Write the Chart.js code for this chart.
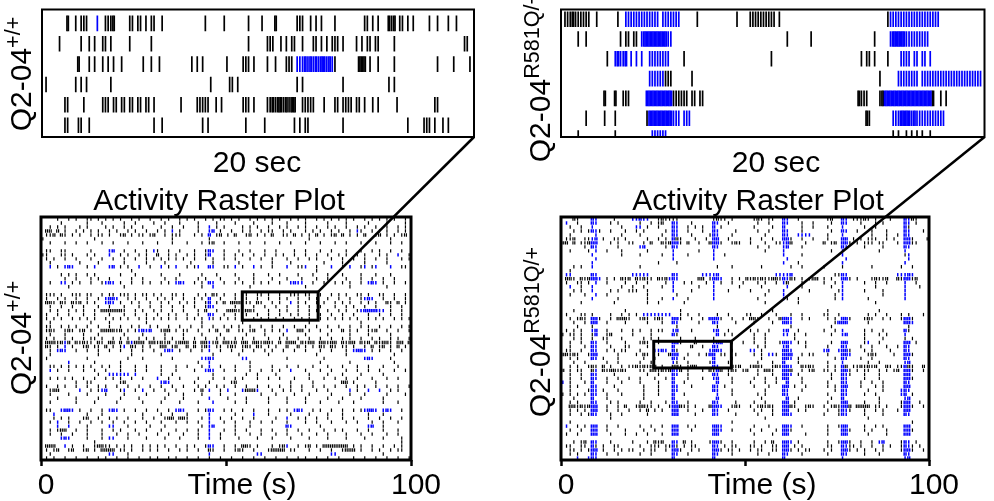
<!DOCTYPE html>
<html>
<head>
<meta charset="utf-8">
<script src="https://cdn.jsdelivr.net/npm/chart.js@4.4.1/dist/chart.umd.min.js"></script>
<style>
	body { margin: 0; width: 994px; height: 501px; overflow: hidden; background: #fff; position: relative; font-family: 'Liberation Sans', Arial, sans-serif; }
	canvas { position: absolute; left: 0; top: 0; }
	.lbl { position: absolute; white-space: nowrap; font-size: 30px; line-height: 30px; color: #000; transform: translate(-50%, -50%); }
	.rot { transform: translate(-50%, -50%) rotate(-90deg); }
	sup { font-size: 0.72em; line-height: 0; vertical-align: 0.5em; }
</style>
</head>
<body>
<canvas id="mainL" width="994" height="501"></canvas>
<canvas id="mainR" width="994" height="501"></canvas>
<canvas id="insetL" width="994" height="501"></canvas>
<canvas id="insetR" width="994" height="501"></canvas>

<div class="lbl rot" style="left:21px;top:74px">Q2-04<sup>+/+</sup></div>
<div class="lbl rot" style="left:540px;top:77px">Q2-04<sup>R581Q/+</sup></div>
<div class="lbl" style="left:257px;top:162px">20 sec</div>
<div class="lbl" style="left:776px;top:162px">20 sec</div>
<div class="lbl" style="left:219px;top:200px">Activity Raster Plot</div>
<div class="lbl" style="left:758px;top:200px">Activity Raster Plot</div>
<div class="lbl rot" style="left:21px;top:338px">Q2-04<sup>+/+</sup></div>
<div class="lbl rot" style="left:540px;top:332px">Q2-04<sup>R581Q/+</sup></div>
<div class="lbl" style="left:242px;top:484px">Time (s)</div>
<div class="lbl" style="left:762px;top:484px">Time (s)</div>

<script>
// spike rows: groups split by spaces, each group covers the same time span
// . none, i black spike, I two black spikes, b blue spike, B two blue spikes
const leftInsetRows = [
	'........ .I..i.ii i...b..i iiI..... ii.ii.i. ii..i... ........ ....i... ...i.... ....i... .i....I. ......ii i..i.i.i ....i... .......i i.i.i... IiI.ii.i .i.....i ..i...i. .i......',
	'......i. ......i. .i.i..ii .i...... i....... i....... ........ ........ ........ ....i... ...iii.. i.i.ii.. i...ii.i .i.iii.i ....i.i. ii.ii... ..i..... ........ ........ ....ii..',
	'........ .....I.. .i.i..i. i.i..i.. .....i.. i..i.... .......i .i.i.... ....i... ..iii.i. ...i..i. ..iii.bb bBbBbBbB BbBbi... .....III .i..i... ..i..... ........ ..i..... i.....i.',
	'.i...... ....i.i. i....... .i...... ........ ........ ........ ......i. .....ii. i....... ........ ......i. i....... .......i ........ ........ i.i..... ........ ........ ........',
	'........ ii.....i ......ii i.ii.ii. ii.ii.ii .i...... ...i.... .iiiii.. i.i..... ..iii.i. ...iiIiI IiIiII.. iiiii... i...ii.i iii.ii.i ..i.i... ...i.... ........ .ii..... ........',
	'........ ii...ii. .i...... ........ ........ .i..i... ........ ...i.i.. ........ ...i.... ..i..... .....i.i .ii..... .......i ........ ........ .......i .....iii .i..i.i. ........'
];

const rightInsetRows = [
	'.iiiIiii iii..i.. .....i.. bbbbbbbb bbbbb.bb bbbbb... ...i.... ........ ..i....i iiiiiiii i.i..... ........ ........ ........ ........ ...ibbbb bbbbbbbb bbbbbbb. ........ ........',
	'......i. .i...... ......i. ii.ii.bB BBBBBBBB bb...... ........ ........ ........ ........ .....i.. ......i. ........ ........ ......i. ....bBBB BBbbbbbb bbb..... ........ ........',
	'........ ........ .i..bBbb B.b.b.b. .bbbbbbb b.....i. ........ ........ ........ .......i ........ ........ ........ ........ .i.ii.i. ...i.... bbbb.bb. bb.b.... ........ ........',
	'........ ........ ........ ........ .bbbbbbi ii...... .i...... ........ ........ ........ ........ ........ ........ ........ ........ i......b bbbbbbb. bbbbbbbb bbbbbbbb bbbbbbb.',
	'........ ........ I...I..i ii...... BBBBBBBB BBiiiiii .ii.ii.. ........ ........ ........ ........ ........ ........ ........ Iiii.... iIBBBBBB BBBBBBBB BBBBI..i .i...... ........',
	'........ .i...... i...i... ........ iBBBBBBB BBbbb.bb b....... ........ ........ ........ ........ ........ ........ ........ ...Ii... .....bbb BBBBbBbb bbbbbbbb b....... ........',
	'......i. ........ ....i... ........ ..bbbbbb ........ ........ ........ ........ ........ ........ ........ ........ ........ ........ .....i.i ..i.i.i. i..i.... ........ ........'
];

const leftMainRows = [
	'....i..i.i ..ii.i.i.i .i..i.i..i ..i.i..i.i .i..i.i.ii .i.i..i.i. i.i.i..i.i .i..i.i.i. i.i.i..i.i .i.i.i..i.',
	'.....i.... ..i...i... ..i..i.... i..i...i.. ..i....i.. ..i....i.. ..i...i... .i.....i.. ..i.....i. ...i....i.',
	'..i.i.i... i.i....i.i ..i.i..i.. ..i..i..i. ..i..b.i.i ....i.i.i. .i..i.i..i .i..i..i.i ..i..i.i.. i..i..i.i.',
	'.II.I.i..i .i.i.i..i. i..i.i..i. .i.i.b.i.. ..i..bB.i. .i..i.i..i .ii..i.i.. .i.i.i..i. i..i.bi..i .i.i..i.i.',
	'.iiI.Ii.i. i..i.ii.i. .iI.i.ii.i I..i.iii.. .i.i.B.iI. i.I..iI.i. i.I..ii.I. i.i.I.i.iI .I.i.i.I.. iI.i.i.iI.',
	'i......... ....i..... .......... .....i.... .....i.... .......... .......... ..i....... .......... ....i.....',
	'..i...i..i ..i...i..i ...i...i.. .i...i...i ...i.iI..i ...i..i... i...i..i.. .i...i...i ..i...i... i...i..i..',
	'.......... .......... .......... .......... .......... .......... .......... .......... .......... ..........',
	'.ii..ii... ...i....bB ..i..i..i. bi..i..i.. .i..iBb..i ...i..i... i..i....i. .i...i..i. ..i...i..i .i..i..i..',
	'ii...ii.i. ..i.i...b. .i.i..i.i. .I..i.i..i .i..iB...i ..i.i..i.. i..i.i..i. .i..i..i.. i.i..i.i.. .i.i..b..i',
	'.i.i..i..i ...i..i..i ..i..i..i. i.i.i.i.i. .i..i.i..i ..i...i..i ..i...i..i ..i.i...i. .i..i..i.. i..i...i.i',
	'..i....... i....i.... ..i.....i. ...i...... i.....i... ...i...... ..i....i.. ......i... .i.....i.. ...i......',
	'..b.i.bBb. ..i.b...bB .i.i..b..i ..b.i.b..i .ib..Bb..i i.b.i..b.i ..i...b..i ib..i...b. .i.b..ib.i b...b..ii.',
	'.......... .......... ....i..... .......... .......... .......... .......... ....i..... .......... ..........',
	'.....i.i.i ..i.i..... .i...i.... ..i....i.. ...i...i.. ..i....i.. .i..i....i ...i...i.. .i....i... i...i.....',
	'......i..i ...i.i..i. ....i..i.. ...i..i... ..i.i...i. ...i...i.. ..i...i... i...i..i.. ..i...i..i ..i..i....',
	'..i..bb.i. i..i..ibBb .i..i..i.i ..i.i.bBb. .i.i.Bb..i ..i.i..i.i .i..i..bBb b..i..i..i .i.i..i.bB b.i..i..i.',
	'.......i.. .......... ..i....... .......... ...i..b... ......i... .......... .i........ ...i...... ...i......',
	'.......... .......... .......... .......... .......... .......... .......... .......... .......... ..........',
	'.iii.i..ii i.ii..i.ii .iii.i.ii. i.i..ii.i. ..i.i.Ii.i ..i.ii..ii .i..i..iii .ii..i..i. i.i..ii.i. .ii..i..i.',
	'.i..i.i..i ..i..i.bBB b..i.i..i. .i.i.i..i. .i.i.B..i. ..i..i..i. .i..i.i..i ..i.i..i.. i..i..ibBb ..i..i..i.',
	'.IIi.Ii.Ii I.i.i..bBb .i..i.i..i ..i.i..i.i .i..iB.i.I .III.ii.Ii ..i.i..b.i .i..i.i..i .i.i..i.i. i..Ii.I.i.',
	'..i..i..i. .i...i..i. ..i...i..i ..i..i..i. .i..iBb... ..i.i..i.. i..i..i..i ..i..i...i ..i.i..i.. i...i..i..',
	'..i.i..i.i .i..i.IIII IIi..i.i.. i.i..i..i. ..i.I..i.. IIIi.IIi.. .i..i.i..i ..i.i..i.. i.i..ibBBB Bbb.i..i..',
	'.i..i..i.. .i..i...i. ..i..i..i. .i..i.i..i ..i..Bb..i ..i..i..i. .i..i..i.i ..i..i..i. .i..i...i. .i..i..i..',
	'.i.i.i..i. i.i.i..i.i .i.i..i.i. i.i.i.i..i .i.i.bi.i. i.i.i..i.i .i.i.i..i. i.i..i.i.i .i.i.i..i. i.i..i.i.i',
	'..i....... ...i....i. ........i. .......... ...i...... ....i..... .......... ..i....... ......i... ..........',
	'.ii..i.i.i ..i..i..i. .i..i.i..i .i..i..i.. i..i..i..i .i.i..i..i ..i..i..i. .i..i..i.. i..i..i.i. .i..i..i.i',
	'.iIi..iIi. iI.i..IIII iI.i.ibBbB ..iII.i.ii ..i..i.I.. I..ii.iI.. i.i.i.b..I I.i..i..i. .I.i.i..ii I..i..i..i',
	'..i...i... .i...i.... ..i....i.. ...i....i. ...i....i. .....i.... i....i.... .i.....i.. ...i....i. ....i.....',
	'.i.i..i.i. .i.ii.i..i .i.i..i.i. i..i.i..i. .i..i..i.i ..i.i..i.. .i..i.i..i ..i..i..i. .i.i..i..i .i..i.i..i',
	'.IIIiIbI.I iIii.Ii.II .I.IbIII.I IiIiI.iIII .I.IIbiI.I IiI.II.IIi IIi.I.III. IiII.IIiII .IiII.IiI. IiIIi.II.I',
	'.Ii.i.b.i. .iI.ii.I.i .ib.Ii.i.i ..II.iI..I .I.iIb.ii. iIi.iIi.Ii .i.i..I..I .i.i.Ii.Ii .ii.i..i.I .iI.i.I.i.',
	'..i.bBb..i ..i..i..i. .i..i..i.. i..bBb.i.. i..i.b..i. .i..i..i.. i.i..i..i. .i...i..i. ..i.bBBb.i .i..i..i..',
	'..i....... .....i.... ....i..... ..i....... ......i... ...i...... .i........ ....i..... ..i....... .....i....',
	'.i........ ..i....... ...i...i.. .....i.... ...bbBb... ....bb.... ......i... ......i... .......bBb ....i.....',
	'.......b.. ....i..... .i........ .......... ..i..b.... ......i... .......... .....i.... ...i...... .....i....',
	'..ii.i.i.i .i.i..i.i. .i...i..i. ..i...i..i ...i.b..i. ..i...i... ..i...i..i ...i...i.. .i...i..i. ..i...i...',
	'..b.i..i.. .i..i..i.. .i...i..i. ..i...i... .i..bBb..i ..i...i..i ..i.i..b.. .i...i..i. ..i..i..i. .i...i..i.',
	'.......... .....i..bb bbbb.b.... ..i..i.... ......i... .....i..i. ...i...... ..i....i.. .i....i... ..i.......',
	'..i.i.i.i. .i..i..i.i .i..i..i.. .b..i..i.. ..i...i..i ..i.i...i. .i..i...i. ..i...i..i ..i..i...i ...i..i...',
	'.........i ..ii...... .iI....... ..bBb..... .i...i.... .iI....... .......i.. ...i...... .II.i..... i.........',
	'.i..i.i..i ..i..i.i.. i..i..i..i ..i..i..i. ..i.i..i.i ..i..i..i. .i..i..i.. i..i..i..i ..i..i.i.. i..i..i..i',
	'..iII..... b..i.ibB.. .ib..i.b.. i..i..i... .i.I.b..i. b...bIIIb. ..i..i.i.. i...i..i.. ...b.i..b. .b..i.i...',
	'..i....i.. ..i....i.. ..i.....i. ....i...i. ...i....i. ..i......i ...i....i. ..i.....i. ...i...i.. ...i....i.',
	'....i....i .....i.... .i....i... ...i....i. .....b.... i....i.... .i....i... .i.....i.. .i....i... ..i.......',
	'..i......i ....i..... i......i.. ..i....i.. ..i...b... ..i..i.... .i....i... .i...i.... i...i..... ..i...i...',
	'.......... .......... .......... .......... .......... .......... .......... .......... .......... ..........',
	'.ii..bBBb. i..i..i.bB b.i..i..i. .i..i.bBb. ..i.iBb..i .i..i..i.. .i..i.i.bB b..i.i..i. .i..i.ibBB b.bBb..i..',
	'...b...... ..i...i... .......i.. ..i..i...i .....b.... ..i....b.. .i.....i.. ..i....i.. .i......i. ..i.......',
	'...i.i.i.. .iI..i..i. i..i...i.. i..iII.IIi ...i.b..i. .i..i..i.. ...i..b..i .i..i..i.. .i..i...i. .i..i..i..',
	'..i.b..i.. i..i..i..i ..i..i..i. ..i...i..i ..i..b...i ..i...i..i ..i...i... .i..i...i. ..i..i...i ..i...i...',
	'....b..b.. ..i.....bb ...i.....i ...i...... ...i.bB... ..i...i... ......Bb.. .....i.... ........bB ..i.......',
	'..i.iII..i ..i...i..i .i...i..i. ..i...i..i ..i..b...i ..i..i...i ..i...i..i ..i...i..i .i...i..i. ..i...i...',
	'..i..i..i. ..i...i... i..i..i... .i..i...i. ..i..b..i. ..i...i..i ...i..i... i...i..i.. ..i...i..i ...i..i...',
	'.....bBb.. ..i...i.bb ...i....i. ...i...i.. ..i..b..i. ...i....i. ..i....i.. ..i....i.. ..i....i.. ..i....i..',
	'.......... ....i..... .......... .......... .......... .......... .......... .......... .......... .......i..',
	'.III..b.i. .i..iIIii. i.i.i..i.i .i.i..i..i .i..iBb..i ..i.IIi.i. ..i.iIb..i .iI.i.IIII III.i.i..i ..i..i.i..',
	'.i.iI..iI. .iI.i.IIII .ii.i..i.i .i..i..i.i ..i..Ii..i ..iIi..i.. .iIIII.ii. ..i..i..i. .iIII.i..i .i..i.ii..',
	'..i....... ........bb ...i...... .......... .....b.... ........bb .......... ........bb .......... ..i.......',
	'.i.i..i..i ..i..i.i.. i..i..i..i .i..i.i..i ..i..i..i. .i..i..i.. i..i..i..i .i..i..i.. i...i..i.. i..i..i..i'
];

const rightMainRows = [
	'...Ii...Bb ....i....b bBbb..iIii ii........ .iIii.i... ..iIi.ii.. Bb..i..... ..iI..Bb.i iiIi.i...i ...BbIi...',
	'.b..i...Bb ...i.i.... .i..i.iI.. Bb...i.... .Bb..i.... ...i..i... Bb...i..i. ...i..Bb.. .i...i.i.. ...Bb.i...',
	'..i..i..b. ......i... bb.i..i... Bb..i.i.i. .B.i...... ..i....i.. B....i..i. ..i...b... ..i..i.... ...Bi.....',
	'...i.i.iBb i..i...i.. i.i.....i. Bb..i...i. .Bb....i.. ...i..i... Bb...i.... ...i..Bb.. i...i...i. ...Bb...i.',
	'..i......b ......i... .i.....i.. Bb...i.... iBb...i... .....i.... Bb..bbbb.. ..i...b... ....i...i. .i.Bb.....',
	'.iiI..iibB .i..ii.i.. ...i..i.i. BIi...i..i .BB..i.... .i..i..i.. BBi..i..i. ..i...BB.i .i.iii..i. i..BBi...i',
	'II.I.iiIBB ...i.i..ii ..i.I..IiI BBi.I..i.. IBBi..iIi. .i...i..ii bBI...i... .I.iI.BBi. i.iii.ii.. .i.BBii...',
	'......i.Bb .....i.... .bB.....i. Bb........ .Bb....... ...i..i... bB...i.... ......Bb.. ..i....i.. ...Bb.....',
	'..i....i.b ..i...i... ...i...... b......i.. .b........ .....i.... b......... ...i..b... ......i... ...b......',
	'........b. ......i... .i.....i.. b...i..... .b..i..... .......... b....i.... ......b... .......... ...ib.....',
	'.........b .......... .......... b......... .b........ .......... .b........ .......b.. .......... ....b.....',
	'........b. .......... ......i... .i........ .......... .......... b...i..... ......b... .......... ...b......',
	'...i.i..b. .......... .i........ .......... ..i...i... ....i..... ..i..i.... .i....i... ....i..... ..i..i....',
	'..i....... .......... .......... .......... .......... .......... .......... .......... .......... ..........',
	'.bb.....Bb .........b bbbb...... Bb......bb bbB....... ........bb bbB....... ....iiBb.. .......... .bbbBb....',
	'.IIi.IiIBB b.i.i.IiI. IiIii.IiIb Bb.....II. iBBb..i.i. IiIiIiiIIi BbIi.i.iII .i.i..BBi. i...iIiiI. .IiBBiI...',
	'.i..ii.i.b ..i....i.. i..i....i. b..i.i...i .b.i..i..i ...i.i..i. bI...i.... .i..i.b... ..i..i..i. ...b..i...',
	'..b..i..b. ......i..i ..i....i.. b......i.. .b......i. ....i..... .b...i.... ...i..b... .....i.... ...b...i..',
	'...i.i..b. ...i.i..ii i..i...... b....i.... .b...i.... .i....i... b......i.. .....ib... ..i....i.. ...b......',
	'..i...i..b ..i....... ...i...... .i........ .b........ .....i.... b......... ....i.b... .......i.. ...b......',
	'........b. .....i.... ...i...i.. b...i..... .b........ ...i...... bi..i..... ....i.b... ...i...... ...b......',
	'.....i.... ....i..... ...i..i... ...i...... .......... .....i.... ....i..... .......... .....i.... ..........',
	'.......... .......... .......... .......... .......... .......... .......... .......... .......... ..........',
	'...i...... .......i.. .......... ..i....... .......... .......i.. .......... ..i....... ......i... ..........',
	'.i...ii.i. ...i..i.i. i.bbbbbbbb ..i.i..i.. ..i..i.... ii..i...i. ..i..i.... .ii..i.... ...i.i..i. ..i.i...i.',
	'..i.iIi.BB i..i.IIIi. .iIi.iIi.. BBi..i..i. BBBi..i..i .IIi..i..I BBb..i.i.. ..i.i.BBi. ..iIi..i.i ..iBBi....',
	'...i..i.BB ..i....i.. ...i...i.. Bb.....i.. .Bb....i.. ..i....i.. BBb....... ....iBBB.. ...i...... ...BBb....',
	'....i...i. .......... .......... .i........ ..i....... .......... ..i....... ...i...... .......... ....i.....',
	'.i.i.i..bB ..i...i..i .i..i.ii.. bB...i.... .bB..i.... .i.i..i... bB..i..... .i..i.b... ..i.i..i.. ...Bi.....',
	'i.ii.i..iB ..iI.....i ....i..... Bi........ ..B.i.i... ..i..i.... bb.i..i... ...i..bB.. ..i...i.i. ...b......',
	'...i.i..i. .ii...i... ..i.i.i... ..i...i... .i........ ..i..i.... ...i...... .......... ..i....i.. ...i.i....',
	'..i..i..Bb ..i....i.. .iIi..i... BBi...I... .bBB..i..i ..i..i...i BBb.i.i... ...i..BB.. ..ib..i... ...BB.i...',
	'..i...i.Bb ...i...ii. ...i...... B....I..i. .Bb....... ...i.i.... bB....i... ..i...Bb.. .i..i...i. .i.Bb.....',
	'.ii..i..Bb ..i.i.ii.. .i...bbBb. Bi........ bBBb..i... .bb.i..... BBb....... .bB..bBBi. ..i.i....i ...Bb.....',
	'IIiIi..iBB .....i.... i.Ii..i..I BB..i..i.i BB.ii..i.. ..i.i.bbi. BBB..i.ii. ..i...BBb. ...iIi.... i..BBi....',
	'..i.i...Bb .i...i.... ..i..i.... Bb.i...... .B....i... ....i..... BBb.i..... ....i.Bb.. .i..i..... ...Bb.....',
	'...i..i... ..i..i.... .i..i..... bi..i..... iB...i.... ...i...i.. B...i..... ..i...b... ...i..i... ...bB.....',
	'..i.i..iIi .I.i..i.ii IiIiII.i.. IIi.iII... .Bb...IiI. .iIIi..iIi BBb..IiIi. ..i.i.BI.i iIiIiI..Ii .iiBIi..I.',
	'I.i.ii..Ib .IiIIiIi.. .ii.IIiIiI BbI.i...i. IiBI.iIi.i I..i.IIi.. BBI..i.iI. .ii.i.BBi. i.ii..i.i. iI.BBi..i.',
	'..i..i..Bb ....i..... ...i..i... Bb..i..... .Bb..i.... ...i...i.. BBb.i..... ...i..Bbi. ..i...i... ...BB.....',
	'..i..i..Bb ..i..i..i. .i...i..i. B...i...i. .bB...i... ..i..i..i. BB...i.... ...i..Bb.. ..i...i... ...BBi....',
	'b.i...i.B. ..i...i... .i....i... B..i...... ..B...i... .i...i..i. .B...i.... ..i...Bb.. .i..i..i.. ...Bb.....',
	'..i.i...Bb ....i..... ..i...i... Bb...i.... .Bb.i..... ..i...i... BB.i..i... ..i.i.BB.. .i...i.i.. ...BB.....',
	'..i....iBb .i...i.... ..i...i... Bb........ .Bb...i... .....i.... Bb...i.... ....i.Bb.. ...i...i.. ..bBb.....',
	'i.i.i.i.Bb ..i...i... ..i...i... B..i...... ..b...i... ...i.i.... Bb........ ..i...Bb.. ..i..i.... ..bB.i....',
	'...i....B. ..i....... ..i....... B......... ..B....... ....i..... .B..i..... ...i..B... ......i... ...bB.....',
	'..i.i...Bb ...i.i.... .i..i...i. Bb..i..... .Bb....i.. ..i..i.... BB.i...... ..i...BB.. ..i...i... ..iBB..i..',
	'..IIiIiIBB ..i..i.I.. iIIii.i..i BBIii.i... IBBb..iIi. .i.iIiIi.. BBIi..iIi. .i.iIiBBI. IIII.ii.i. ..iBBi..i.',
	'..i.i.i.BB ..i..i..i. .i.I.i.i.. BB..i...i. .Bb..i.... ..i.i..i.. BB..i.i... ..i..iBbi. ..i..i.i.. .i.BB.....',
	'..i..i.iBb ...i..i... ...i...... BB....i... .Bb....i.. ...i...i.. BBb....... .i...iBb.. ..i....i.. ...Bb.....',
	'.......... ...i...... .......... .......... .......... .....i.... .......... .......... ...i...... ..........',
	'..i....... .......... .......... .......... ......i... .......... .......... .......... .......... .....i....',
	'.b..i.i.BB ..i..i.... .i..i..i.. BB..i.i... .BBb...... ..i...i... BBb..i.... ..i..iBB.. ..i..i.i.. ...BB.....',
	'..i..i..BB ..i....i.. ..i..i.... BB...i.... .BBb..i... .i..i...i. BBi....... ..i...BBi. ..i.i...i. ...BBi....',
	'.i..i...BB ...i...i.. i..i...i.. BB........ .BB....... ..i....i.. BB....i... ..i...BB.. ...i....i. ...BB.....',
	'.......... .......... .......... .......... .......... .......... .......... .......... .......... ..........',
	'...i.iI.Bb ...i.....i ...i.IiI.. Bb.I.i.... iBBi..i... ..i..i.I.. BBb.i..... ..i..iBBi. .i..i.bB.. ..iBb.i...',
	'.ii..ii.Bi .i..ii.... .i..iii.ii Bi.i.ii... .Bb.i.ii.. .ii.i..ii. BB.i.i.... ..ii..Bbii .i..i..i.i ..iBbi.i..',
	'..ii.i.iBB .i..i.i.ii ..i.ii..i. BBi..i.i.. .BBi.ii.i. .i.ii..ii. BBi.i.ii.. .i.i..BBi. i.i..i.i.. ..iBBi..i.',
	'..i.i...Bb ..i..i.... .i..i..... Bb..i..... .Bb...i... ...i..i... Bb...i.... ..i...Bb.. ..i...i... ...Bb.....',
	'....b..bBb .......... .......... B......... .B........ .......... B......... ......b... .......... ...bB.....'
];

const timeTicks = [0, 50, 100];
// zoomed windows: [from s, to s, first row, last row]
const leftZoom = [54.4, 74.9, 18.3, 25.4];
const rightZoom = [25.2, 46.3, 30.7, 37.4];

Chart.defaults.color = '#000';
Chart.defaults.font.family = "'Liberation Sans', Arial, sans-serif";

const parseRows = (rows, span) => {
	const black = [];
	const blue = [];
	rows.forEach((row, r) => {
		row.split(' ').forEach((grp, k) => {
			const w = span / grp.length;
			[...grp].forEach((c, j) => {
				const t = k * span + j * w;
				const list = c === 'b' || c === 'B' ? blue : black;
				if (c === 'i' || c === 'b') list.push({ x: t + w / 2, y: r });
				if (c === 'I' || c === 'B') list.push({ x: t + w / 4, y: r }, { x: t + (3 * w) / 4, y: r });
			});
		});
	});
	return { black, blue };
};

const spikeSet = (data, color, len, width) => ({
	data: data,
	pointStyle: 'line',
	pointRotation: 90,
	pointRadius: len,
	pointHoverRadius: len,
	pointBorderWidth: width,
	pointHoverBorderWidth: width,
	pointBorderColor: color,
	pointBackgroundColor: color,
	showLine: false,
	clip: 0
});

const framePlugin = (lineW, zoom, inset) => ({
	id: 'frame',
	afterDatasetsDraw: (chart) => {
		const { ctx, chartArea: a } = chart;
		ctx.save();
		ctx.strokeStyle = '#000';
		ctx.lineWidth = lineW;
		ctx.strokeRect(a.left, a.top, a.right - a.left, a.bottom - a.top);
		if (zoom) {
			const xs = chart.scales.x;
			const ys = chart.scales.y;
			const x0 = xs.getPixelForValue(zoom[0]);
			const x1 = xs.getPixelForValue(zoom[1]);
			const y0 = ys.getPixelForValue(zoom[2]);
			const y1 = ys.getPixelForValue(zoom[3]);
			ctx.lineWidth = 3;
			ctx.strokeRect(x0, y0, x1 - x0, y1 - y0);
			const ia = inset.chartArea;
			ctx.lineWidth = 2.5;
			ctx.beginPath();
			ctx.moveTo(x1, y0);
			ctx.lineTo(ia.right, ia.bottom);
			ctx.stroke();
		}
		ctx.restore();
	}
});

const makeInset = (id, rows, pad, yMin, yMax) => {
	const d = parseRows(rows, 1);
	return new Chart(document.getElementById(id), {
		type: 'scatter',
		data: {
			datasets: [spikeSet(d.blue, 'rgb(0,0,255)', 7.8, 1.7), spikeSet(d.black, '#000', 7.8, 1.7)]
		},
		options: {
			responsive: false,
			animation: false,
			events: [],
			layout: { padding: pad },
			plugins: { legend: { display: false }, tooltip: { enabled: false } },
			scales: {
				x: { type: 'linear', min: 0, max: 20, display: false },
				y: { type: 'linear', min: yMin, max: yMax, reverse: true, display: false }
			}
		},
		plugins: [framePlugin(2, null, null)]
	});
};

const makeMain = (id, rows, pad, zoom, inset) => {
	const d = parseRows(rows, 10);
	return new Chart(document.getElementById(id), {
		type: 'scatter',
		data: {
			datasets: [spikeSet(d.blue, 'rgb(0,0,255)', 1.7, 1.5), spikeSet(d.black, '#000', 1.7, 1.2)]
		},
		options: {
			responsive: false,
			animation: false,
			events: [],
			layout: { padding: pad },
			plugins: { legend: { display: false }, tooltip: { enabled: false } },
			scales: {
				x: {
					type: 'linear',
					min: 0,
					max: 100,
					afterBuildTicks: (s) => { s.ticks = timeTicks.map((v) => ({ value: v })); },
					afterFit: (s) => { s.height = 41; },
					border: { display: false },
					grid: { drawOnChartArea: false, tickLength: 6, tickWidth: 2.5, tickColor: '#000' },
					ticks: {
						font: { size: 30 },
						padding: 2,
						labelOffset: 5,
						maxRotation: 0,
						callback: (v) => (v === 50 ? '' : String(v))
					}
				},
				y: { type: 'linear', min: -0.5, max: rows.length - 0.5, reverse: true, display: false }
			}
		},
		plugins: [framePlugin(3, zoom, inset)]
	});
};

const insetL = makeInset('insetL', leftInsetRows, { left: 42, top: 8, right: 520, bottom: 364 }, -0.68, 5.58);
const insetR = makeInset('insetR', rightInsetRows, { left: 561, top: 5, right: 1, bottom: 364 }, -0.49, 5.95);
makeMain('mainL', leftMainRows, { left: 41, top: 217, right: 583, bottom: 0 }, leftZoom, insetL);
makeMain('mainR', rightMainRows, { left: 561, top: 217, right: 65, bottom: 0 }, rightZoom, insetR);
</script>
</body>
</html>
